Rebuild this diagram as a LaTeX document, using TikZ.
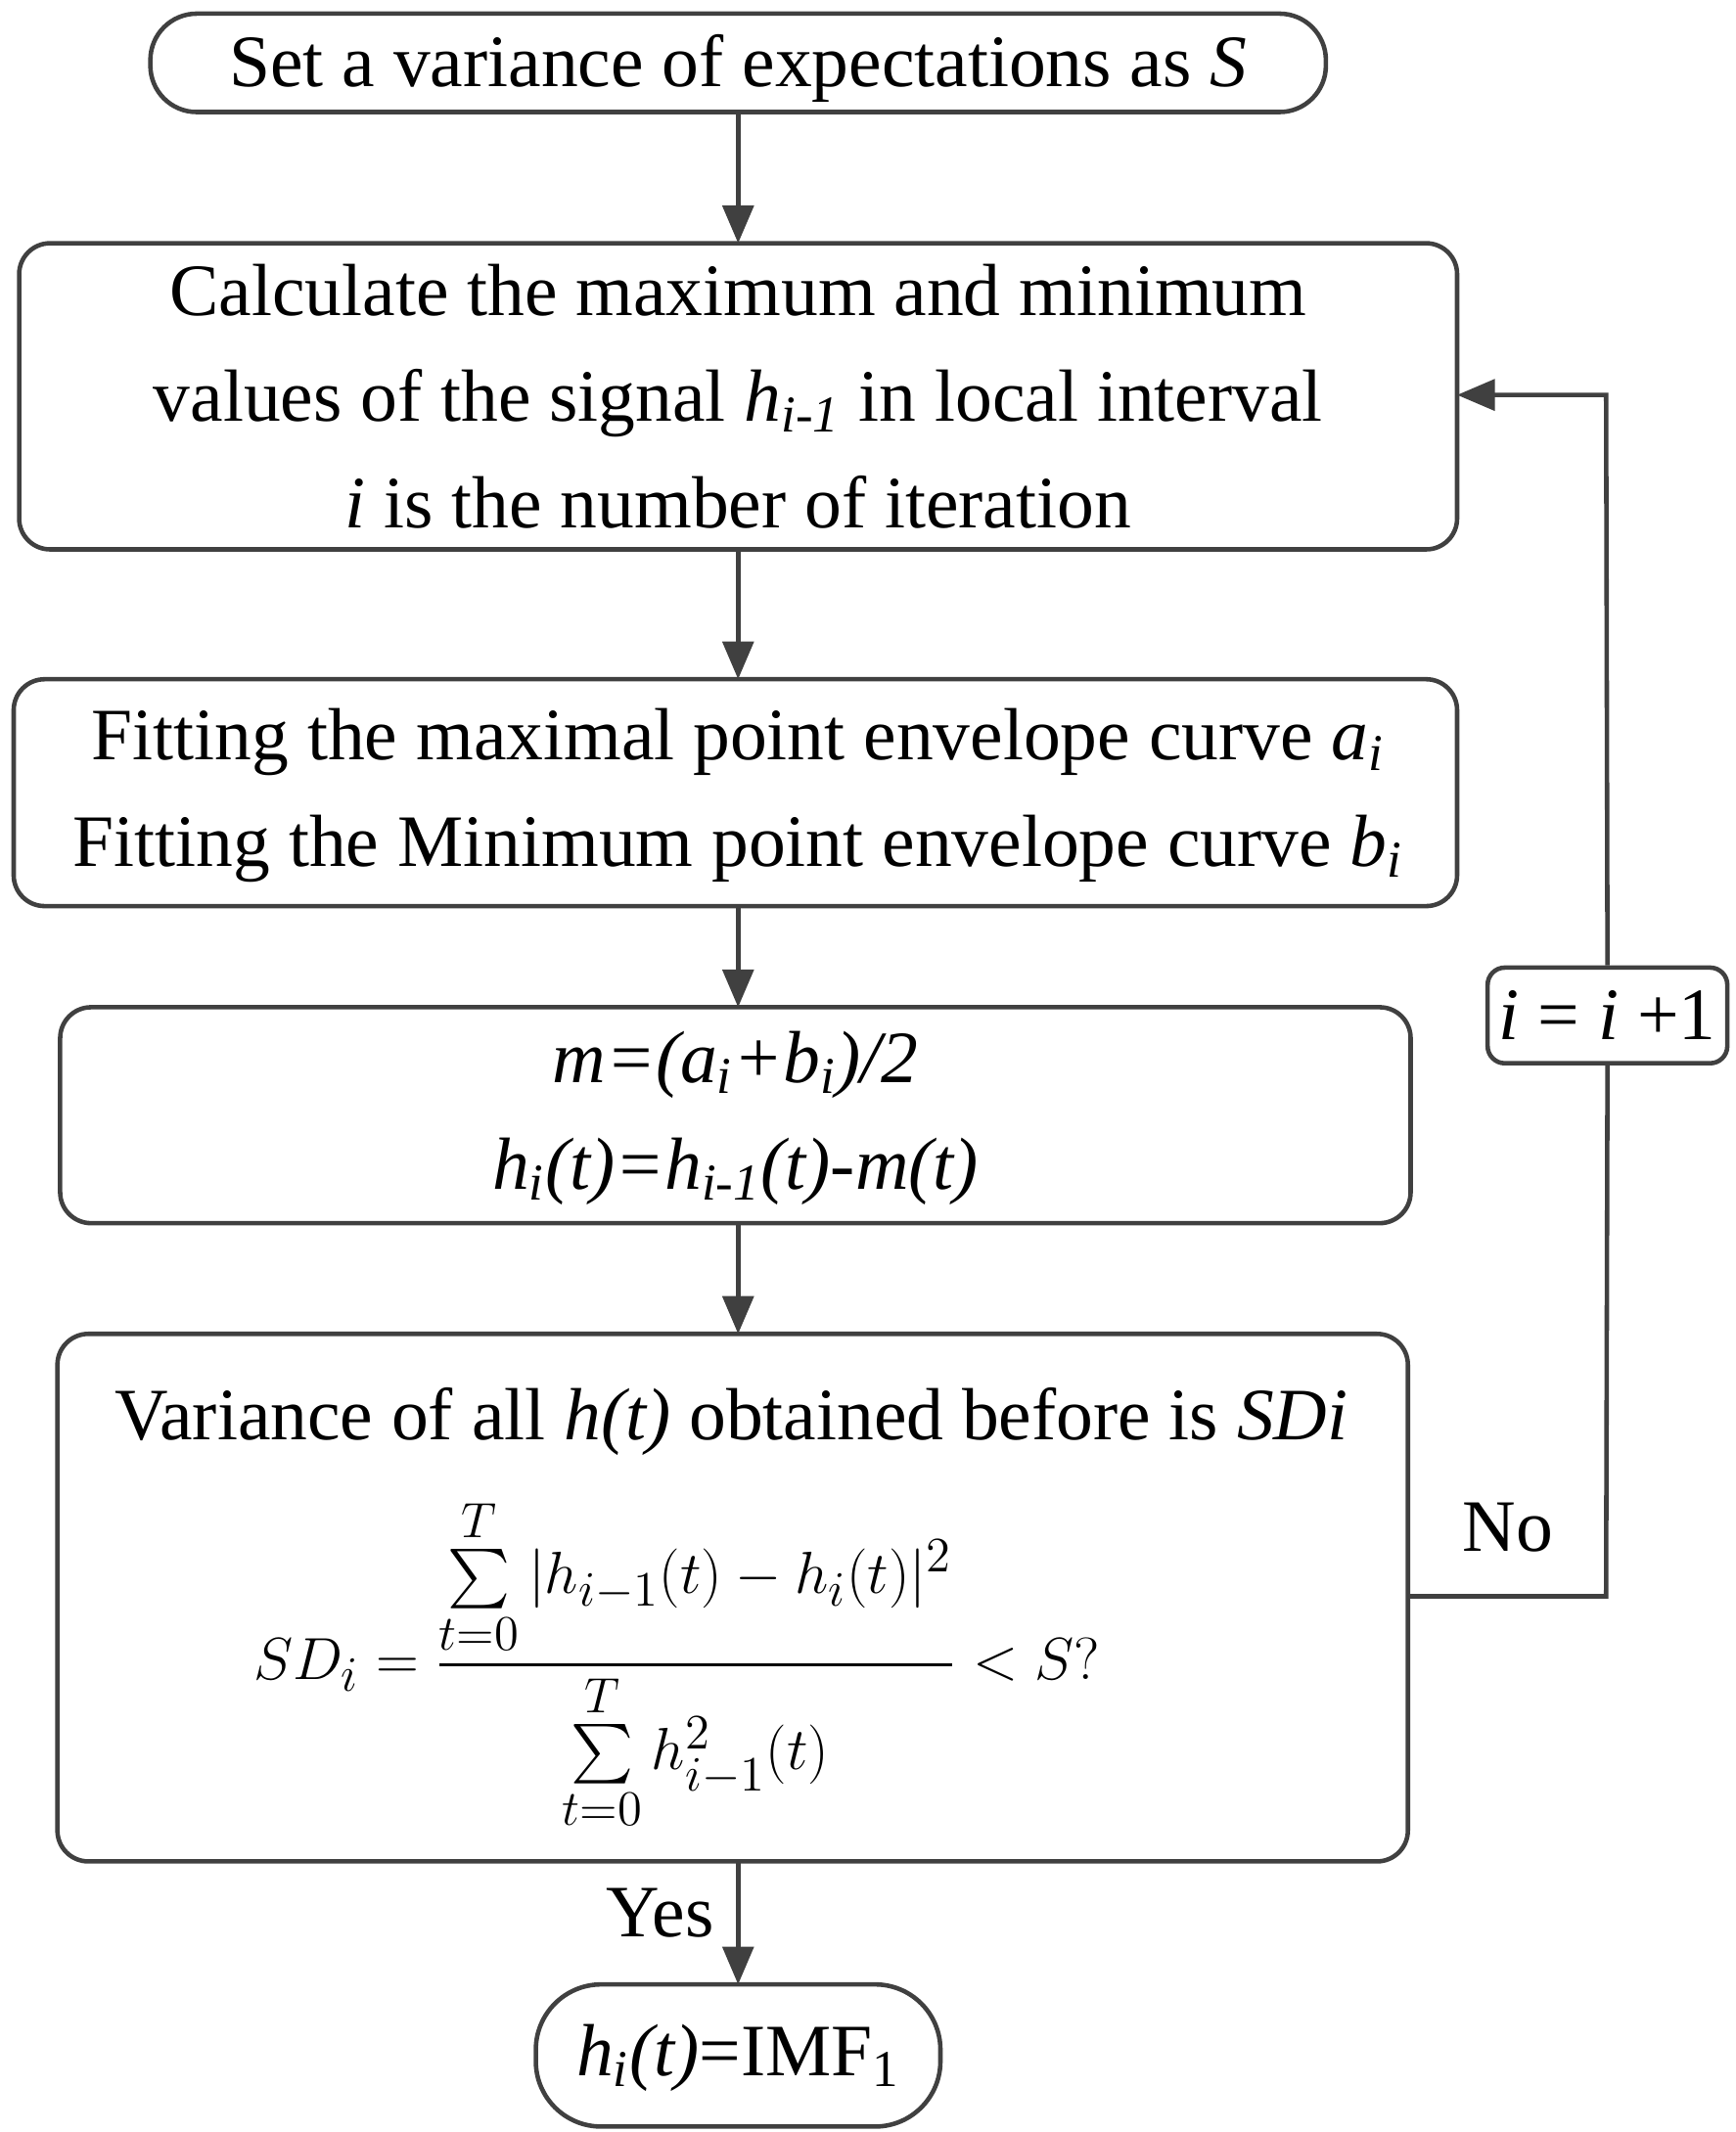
\documentclass[tikz,border=0pt]{standalone}
\usepackage{fontspec}
\setmainfont{Liberation Serif}
\usepackage{amsmath}
\usetikzlibrary{arrows.meta}
\begin{document}
\begin{tikzpicture}[x=0.01398cm,y=-0.01398cm,
  ln/.style={draw=black!75, line width=1.3pt},
  box/.style={ln, rounded corners=9pt},
  arr/.style={ln, -{Triangle[length=11pt,width=9pt]}},
  txt/.style={font=\fontsize{21.5}{31}\selectfont, align=center}]
\useasboundingbox (0,0) rectangle (1270,1560);
\draw[ln, rounded corners=13.5pt] (110,10) rectangle (970,82);
\node[txt] (s) at (540,50) {Set a variance of expectations as \textit{S}};
\coordinate (sb) at (540,82);
\draw[box] (14,178) rectangle (1066,402);
\node[txt] (b1) at (540,290) {Calculate the maximum and minimum\\values of the signal \textit{h\textsubscript{i-1}} in local interval\\\textit{i} is the number of iteration};
\coordinate (b1t) at (540,178); \coordinate (b1b) at (540,402); \coordinate (b1r) at (1066,289);
\draw[box] (10,497) rectangle (1066,663);
\node[txt] (b2) at (540,582) {Fitting the maximal point envelope curve \textit{a\textsubscript{i}}\\Fitting the Minimum point envelope curve \textit{b\textsubscript{i}}};
\coordinate (b2t) at (540,497); \coordinate (b2b) at (540,663);
\draw[box] (44,737) rectangle (1032,895);
\node[txt] (b3) at (538,818) {\textit{m=(a\textsubscript{i}+b\textsubscript{i})/2}\\\textit{h\textsubscript{i}(t)=h\textsubscript{i-1}(t)-m(t)}};
\coordinate (b3t) at (540,737); \coordinate (b3b) at (540,895);
\draw[box] (42,976) rectangle (1030,1362);
\node[txt] (b4a) at (535,1040) {Variance of all \textit{h(t)} obtained before is \textit{SDi}};
\node[font=\fontsize{19}{23}\selectfont] (b4b) at (495,1218) {$\displaystyle SD_i=\frac{\sum\limits_{t=0}^{T}|h_{i-1}(t)-h_i(t)|^2}{\sum\limits_{t=0}^{T}h_{i-1}^2(t)}<S?$};
\coordinate (b4t) at (540,976); \coordinate (b4b2) at (540,1362); \coordinate (b4r) at (1030,1168);
\draw[ln, rounded corners=19pt] (392,1452) rectangle (688,1556);
\node[txt] (e) at (540,1506) {\textit{h\textsubscript{i}(t)}=IMF\textsubscript{1}};
\coordinate (et) at (540,1452);
\node[ln, rounded corners=5pt, minimum width=173*0.01398cm, minimum height=70*0.01398cm, txt] (inc) at (1176,743) {\textit{i} = \textit{i} +1};
\coordinate (c1) at (1175,1168); \coordinate (c2) at (1175,289);
\draw[arr] (sb) -- (b1t);
\draw[arr] (b1b) -- (b2t);
\draw[arr] (b2b) -- (b3t);
\draw[arr] (b3b) -- (b4t);
\draw[arr] (b4b2) -- (et);
\draw[ln] (b4r) -- (c1) -- (inc.south);
\draw[arr] (inc.north) -- (c2) -- (b1r);
\node[txt] (no) at (1103,1118) {No};
\node[txt] (yes) at (483,1400) {Yes};
\end{tikzpicture}
\end{document}
